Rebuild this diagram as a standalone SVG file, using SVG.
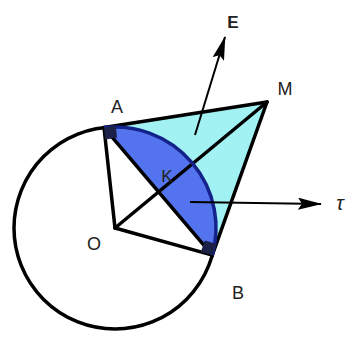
<svg xmlns="http://www.w3.org/2000/svg" width="358" height="337" viewBox="0 0 358 337">
<defs>
<style>
.ln{stroke:#000;stroke-width:3.5;fill:none;stroke-linecap:round;stroke-linejoin:round}
.lbl{font-family:"Liberation Sans",Arial,sans-serif;font-size:18px;fill:#222;text-anchor:middle}
.vec{stroke:#000;stroke-width:2;fill:none}
</style>
<marker id="ah" viewBox="0 0 24 12" refX="23" refY="6" markerWidth="24" markerHeight="12" markerUnits="userSpaceOnUse" orient="auto">
<path d="M0,0 L24,6 L0,12 L4,6 Z" fill="#000"/>
</marker>
</defs>
<rect width="358" height="337" fill="#fff"/>
<g id="circle">
<circle cx="115" cy="228" r="101" class="ln"/>
</g>
<g id="triangle">
<polygon points="104,127.6 267,102 212.3,255.1" fill="#a2f2f4"/>
</g>
<g id="segment">
<path d="M104,127.6 A101,101 0 0 1 212.3,255.1 Z" fill="#5473ee"/>
</g>
<g id="connectors">
<line x1="115" y1="228" x2="104" y2="127.6" class="ln"/>
<line x1="115" y1="228" x2="212.3" y2="255.1" class="ln"/>
<line x1="104" y1="127.6" x2="212.3" y2="255.1" class="ln"/>
<line x1="115" y1="228" x2="267" y2="102" class="ln"/>
<line x1="104" y1="127.6" x2="267" y2="102" class="ln"/>
<line x1="212.3" y1="255.1" x2="267" y2="102" class="ln"/>
<path d="M104,127.6 A101,101 0 0 1 212.3,255.1" fill="none" stroke="#14238c" stroke-width="3.5"/>
<line x1="195" y1="135" x2="225" y2="37" class="vec" marker-end="url(#ah)"/>
<line x1="190" y1="202" x2="321" y2="204" class="vec" marker-end="url(#ah)"/>
</g>
<g id="marks">
<polygon points="104,127.6 105.2,139.5 117,137.7 115.8,125.8" fill="#1c2148"/>
<polygon points="212.3,255.1 200.8,251.9 204.8,240.6 216.3,243.8" fill="#1c2148"/>
</g>
<g id="labels">
<text x="233" y="28" class="lbl" style="font-weight:bold;font-size:17px">E</text>
<text x="285" y="95" class="lbl">M</text>
<text x="117" y="113" class="lbl">A</text>
<text x="167" y="182" class="lbl" style="font-size:17px">K</text>
<text x="94" y="250" class="lbl">O</text>
<text x="238" y="299" class="lbl">B</text>
<text x="340" y="210" class="lbl" style="font-style:italic;font-size:20px">τ</text>
</g>
</svg>
